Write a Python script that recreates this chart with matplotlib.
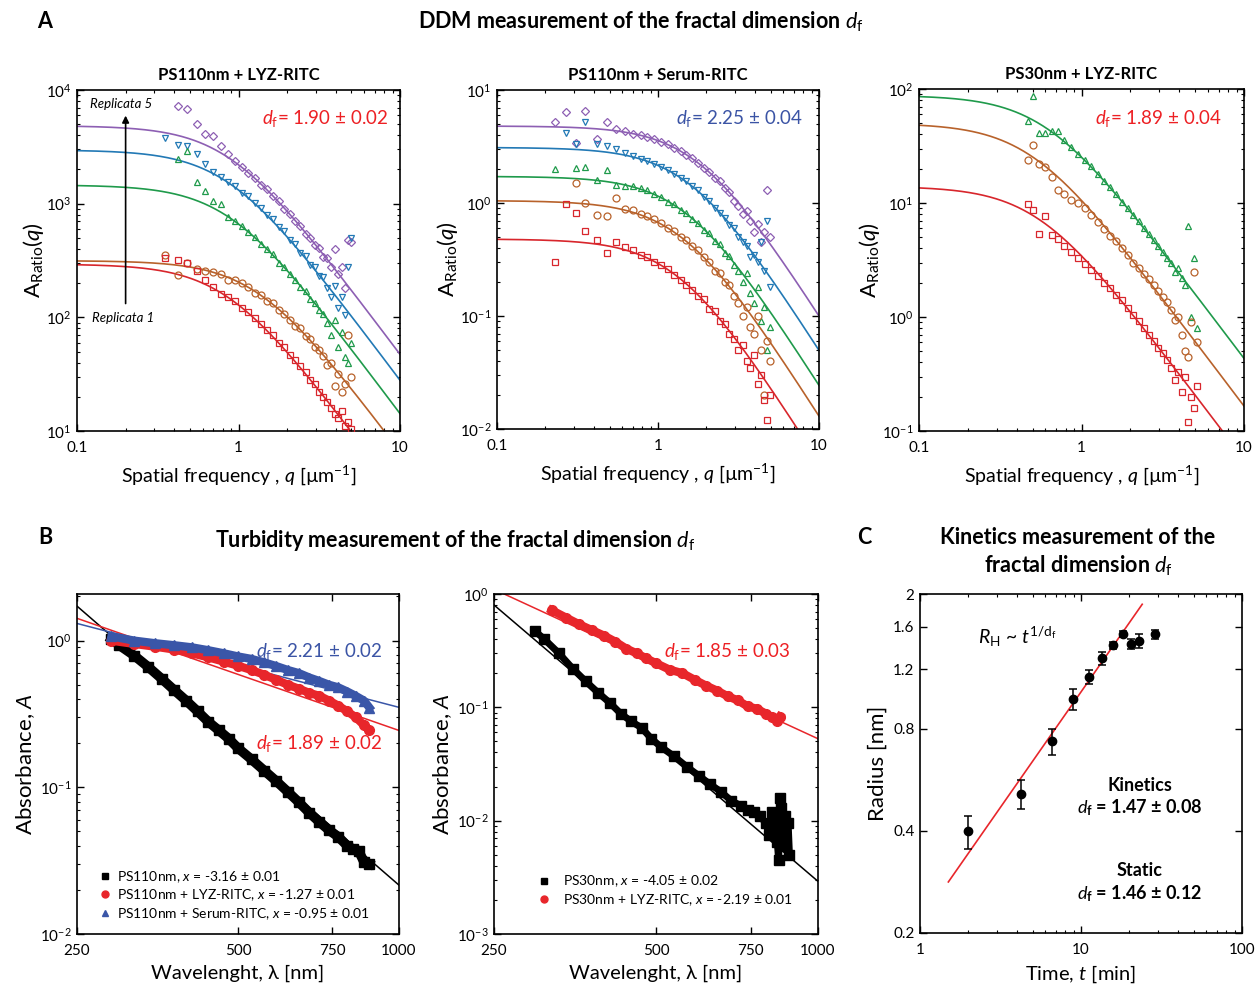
import numpy as np
import matplotlib
matplotlib.use('Agg')
import matplotlib.pyplot as plt
from matplotlib import ticker
from matplotlib.lines import Line2D

plt.rcParams['font.family'] = ['Lato', 'DejaVu Sans']
plt.rcParams['mathtext.fontset'] = 'custom'
plt.rcParams['mathtext.rm'] = 'Lato'
plt.rcParams['mathtext.it'] = 'Lato:italic'
plt.rcParams['mathtext.bf'] = 'Lato:bold'
plt.rcParams['axes.unicode_minus'] = False
plt.rcParams['axes.linewidth'] = 1.2
for a in ('xtick', 'ytick'):
    plt.rcParams[a + '.direction'] = 'in'
    plt.rcParams[a + '.major.size'] = 5
    plt.rcParams[a + '.minor.size'] = 2.5
    plt.rcParams[a + '.major.width'] = 1.0
    plt.rcParams[a + '.minor.width'] = 0.8
    plt.rcParams[a + '.labelsize'] = 11
plt.rcParams['xtick.major.pad'] = 7
plt.rcParams['ytick.major.pad'] = 4
plt.rcParams['xtick.top'] = True
plt.rcParams['ytick.right'] = True

PURPLE = '#8d5fb3'
BLUE = '#2279b5'
GREEN = '#1f9a4b'
ORANGE = '#b8622b'
RED = '#d8262c'
TXT_RED = '#ed2024'
TXT_BLUE = '#3b54a5'
TURB_RED = '#e8262b'
TURB_BLUE = '#3a56a8'
nan = np.nan

# ---- A: DDM, amplitude ratio vs q ----
q_a1 = [0.35, 0.42, 0.48, 0.55, 0.62, 0.70, 0.78, 0.86, 0.95, 1.05, 1.15, 1.26, 1.38,
        1.50, 1.63, 1.77, 1.92, 2.08, 2.25, 2.42, 2.60, 2.78, 2.97, 3.16, 3.35, 3.55,
        3.75, 3.95, 4.15, 4.35, 4.55, 4.75, 4.95]
a1_rep5 = [nan, 7200, 6800, 5000, 4100, 3900, 3200, 2750, 2350, 2100, 1880, 1690, 1470,
           1340, 1160, 1050, 900, 815, 700, 640, 545, 500, 430, 410, 340, 330, 280, 400,
           240, 280, 180, 480, 460]
a1_rep4 = [3800, 3250, 3200, 2750, 2250, 1900, 1700, 1560, 1420, 1250, 1160, 1010, 920,
           800, 730, 620, 570, 480, 440, 370, 345, 290, 275, 230, 225, 180, 150, 190, 120,
           150, 105, 280, 500]
a1_rep3 = [nan, 2450, 2900, 1550, 1300, 1050, 1000, 760, 700, 640, 560, 510, 440, 400,
           360, 300, 280, 240, 215, 185, 170, 145, 135, 115, 108, 90, 70, 95, 55, 75, 45,
           40, 60]
a1_rep2 = [350, 235, 300, 265, 255, 250, 240, 215, 215, 200, 185, 165, 158, 140, 133, 115,
           108, 95, 84, 80, 68, 64, 55, 52, 46, 38, 40, 25, 32, 22, 26, 70, 30]
a1_rep1 = [330, 320, 300, 255, 215, 185, 160, 150, 138, 120, 112, 98, 88, 77, 70, 60, 55,
           47, 42, 37, 33, 28, 26, 22, 20, 18, 16, 14, 13, 15, 11, 12, 10.5]
a1_df = 1.90
a1_plateau = [4850, 2965, 1460, 315, 294]
a1_xi = [1.14, 1.16, 1.14, 0.76, 1.18]

q_a2 = [0.23, 0.27, 0.31] + q_a1
a2_rep5 = [5.2, 6.4, 3.4, 6.5, 3.7, 5.2, 4.5, 4.3, 4.1, 4.0, 3.8, 3.65, 3.45, 3.3, 3.05,
           2.9, 2.65, 2.5, 2.25, 2.05, 1.9, 1.65, 1.55, 1.35, 1.25, 1.05, 0.95, 0.8, 0.85,
           0.7, 0.55, 0.65, 0.45, 0.55, 1.3, 0.5]
a2_rep4 = [nan, 4.2, 3.3, 5.2, 3.3, 3.2, 3.0, 2.75, 2.6, 2.45, 2.35, 2.2, 2.1, 1.95, 1.8,
           1.68, 1.55, 1.4, 1.3, 1.12, 1.05, 0.9, 0.82, 0.74, 0.64, 0.6, 0.5, 0.45, 0.42,
           0.33, 0.35, 0.3, 0.45, 0.25, 0.7, 0.18]
a2_rep3 = [2.0, nan, 2.05, 2.1, 1.6, 1.95, 1.45, 1.4, 1.42, 1.35, 1.3, 1.2, 1.12, 1.02,
           0.98, 0.87, 0.82, 0.72, 0.67, 0.58, 0.54, 0.46, 0.43, 0.36, 0.34, 0.28, 0.25,
           0.2, 0.24, 0.16, 0.13, 0.18, 0.09, 0.12, 0.05, 0.08]
a2_rep2 = [nan, nan, 1.5, 1.0, 0.78, 0.76, 1.1, 0.88, 0.86, 0.8, 0.76, 0.72, 0.66, 0.6,
           0.56, 0.5, 0.47, 0.42, 0.38, 0.33, 0.3, 0.25, 0.24, 0.2, 0.19, 0.15, 0.13, 0.1,
           0.12, 0.08, 0.07, 0.1, 0.05, 0.02, 0.06, 0.04]
a2_rep1 = [0.30, 0.98, 0.82, 0.56, 0.47, 0.36, 0.45, 0.41, 0.38, 0.35, 0.33, 0.3, 0.28,
           0.26, 0.23, 0.21, 0.19, 0.17, 0.15, 0.14, 0.115, 0.11, 0.09, 0.085, 0.07, 0.063,
           0.05, 0.055, 0.04, 0.035, 0.045, 0.025, 0.03, 0.018, 0.012, 0.02]
a2_df = 2.25
a2_plateau = [4.8, 3.1, 1.72, 1.05, 0.48]
a2_xi = [0.55, 0.62, 0.656, 0.697, 0.747]

q_a3 = [0.47, 0.50, 0.55, 0.60, 0.66, 0.72, 0.78, 0.86, 0.95, 1.05, 1.15, 1.26, 1.38,
        1.50, 1.63, 1.77, 1.92, 2.08, 2.25, 2.42, 2.60, 2.78, 2.97, 3.16, 3.35, 3.55,
        3.75, 3.95, 4.15, 4.35, 4.55, 4.75, 4.95, 5.15]
a3_rep3 = [52, 86, 41, 41, 43, 43, 36, 31, 27, 24, 21, 18, 15.5, 13.8, 12, 10.3, 9.0,
           7.9, 6.9, 6.0, 5.3, 4.7, 4.2, 3.7, 3.3, 3.0, 2.5, 2.7, 2.2, 1.9, 6.3, 1.0, 3.3,
           0.8]
a3_rep2 = [24, 32, 22, 20.5, 17, 13, 12, 10.7, 10, 9, 7.8, 6.8, 5.9, 5.1, 4.6, 4.0, 3.5,
           3.0, 2.7, 2.4, 2.15, 1.9, 1.7, 1.5, 1.35, 1.15, 0.95, 1.0, 0.7, 0.5, 0.45, 0.9,
           2.5, 0.6]
a3_rep1 = [9.8, 8.6, 5.4, 7.7, 5.2, 4.8, 4.2, 3.7, 3.3, 2.9, 2.6, 2.3, 2.0, 1.8, 1.55,
           1.4, 1.2, 1.05, 0.92, 0.8, 0.7, 0.62, 0.54, 0.48, 0.42, 0.36, 0.28, 0.33, 0.22,
           0.3, 0.12, 0.2, 0.16, 0.25]
a3_df = 1.89
a3_plateau = [88, 50, 14]
a3_xi = [1.66, 2.05, 1.85]

# ---- B: turbidity ----
b1_wl_black = [290, 300, 320, 340, 360, 380, 400, 420, 440, 460, 480, 500, 530, 560, 590,
               620, 650, 680, 710, 740, 770, 800, 820, 840, 860, 880]
b1_black = [1.02, 0.93, 0.79, 0.66, 0.55, 0.46, 0.39, 0.33, 0.28, 0.245, 0.215, 0.185,
            0.155, 0.13, 0.11, 0.093, 0.079, 0.067, 0.058, 0.051, 0.046, 0.040, 0.038,
            0.037, 0.031, 0.030]
b1_wl = [290, 320, 350, 380, 410, 440, 470, 500, 530, 560, 590, 620, 650, 680, 710, 740,
         770, 800, 830, 860, 880]
b1_red = [1.0, 0.95, 0.91, 0.87, 0.82, 0.77, 0.72, 0.675, 0.63, 0.585, 0.54, 0.50, 0.47,
          0.44, 0.42, 0.39, 0.36, 0.33, 0.30, 0.265, 0.245]
b1_blue = [1.07, 1.0, 0.96, 0.93, 0.90, 0.86, 0.82, 0.78, 0.75, 0.71, 0.67, 0.63, 0.60,
           0.56, 0.53, 0.50, 0.48, 0.45, 0.42, 0.39, 0.35]
b1_exp = [-3.16, -1.27, -0.95]
b1_pref = [1.72, 1.42, 1.31]        # absorbance at 250 nm

b2_wl_black = [298, 310, 330, 350, 370, 390, 410, 430, 450, 470, 490, 510, 540, 570, 600,
               630, 660, 690, 720, 740, 760, 780, 800, 810, 820, 830, 840, 845, 850, 855,
               860, 865, 870, 880, 885]
b2_black = [0.47, 0.40, 0.30, 0.22, 0.17, 0.135, 0.11, 0.088, 0.075, 0.066, 0.053, 0.045,
            0.037, 0.030, 0.025, 0.021, 0.018, 0.015, 0.0135, 0.0125, 0.012, 0.011,
            0.0095, 0.0075, 0.012, 0.009, 0.0065, 0.0045, 0.016, 0.013, 0.0085, 0.006,
            0.011, 0.0095, 0.005]
b2_wl_red = [320, 340, 360, 380, 400, 420, 440, 460, 480, 500, 530, 560, 590, 620, 650,
             680, 710, 740, 770, 800, 820, 840, 850]
b2_red = [0.72, 0.62, 0.54, 0.48, 0.43, 0.38, 0.33, 0.30, 0.27, 0.245, 0.215, 0.20, 0.175,
          0.155, 0.14, 0.125, 0.115, 0.102, 0.097, 0.088, 0.082, 0.075, 0.083]
b2_exp = [-4.05, -2.19]
b2_pref = [0.80, 1.10]

# ---- C: kinetics ----
t_min = [1.98, 4.27, 6.59, 8.94, 11.2, 13.5, 15.8, 18.2, 20.4, 22.9, 28.8]
radius = [0.399, 0.514, 0.736, 0.979, 1.138, 1.292, 1.412, 1.528, 1.422, 1.454, 1.521]
radius_err = [0.045, 0.05, 0.064, 0.07, 0.055, 0.058, 0.033, 0.032, 0.05, 0.07, 0.045]
kin_df = 1.47
kin_pref = 0.2147
kin_trange = [1.5, 24.0]

W, H = 1258, 988
fig = plt.figure(figsize=(W / 100, H / 100), dpi=100)


def px_axes(x0, y0, x1, y1):
    return fig.add_axes([x0 / W, 1 - y1 / H, (x1 - x0) / W, (y1 - y0) / H])


def px_text(x, y, s, **kw):
    fig.text(x / W, 1 - y / H, s, **kw)


def plain_fmt(v, pos):
    return '%g' % v


def ddm_panel(ax, q, reps, plateau, xi, df, colors, markers, ylim, label, lcolor, lx):
    qq = np.logspace(-1, 1, 300)
    for vals, a0, x, c, m in zip(reps, plateau, xi, colors, markers):
        ax.plot(qq, a0 * (1 + (qq * x) ** 2) ** (-df / 2), color=c, lw=1.2, zorder=2)
        ax.plot(q, vals, m, ls='none', mfc='none', mec=c, ms=5 if m != 'D' else 4.3,
                mew=0.9, zorder=3)
    ax.set_xscale('log')
    ax.set_yscale('log')
    ax.set_xlim(0.1, 10)
    ax.set_ylim(*ylim)
    ax.xaxis.set_major_formatter(ticker.FuncFormatter(plain_fmt))
    ax.set_xlabel(r'Spatial frequency , $q$ [µm$^{\mathrm{-1}}$]', fontsize=14, labelpad=6)
    ax.set_ylabel(r'$\mathrm{A}_{\mathrm{Ratio}}(q)$', fontsize=16, labelpad=0)
    ax.text(lx, 0.915, r'$d_\mathrm{f}$= ' + label, transform=ax.transAxes, ha='right',
            va='center', color=lcolor, fontsize=13.5)


ax1 = px_axes(77, 90, 400, 431)
ddm_panel(ax1, q_a1, [a1_rep5, a1_rep4, a1_rep3, a1_rep2, a1_rep1], a1_plateau, a1_xi,
          a1_df, [PURPLE, BLUE, GREEN, ORANGE, RED], ['D', 'v', '^', 'o', 's'],
          (10, 1e4), '1.90 ± 0.02', TXT_RED, 0.963)
ax1.annotate('', xy=(0.2, 6300), xytext=(0.2, 125),
             arrowprops=dict(arrowstyle='-|>', color='black', lw=1.2, mutation_scale=10))
ax1.text(0.12, 7500, 'Replicata 5', style='italic', fontsize=9.5, va='center')
ax1.text(0.124, 99, 'Replicata 1', style='italic', fontsize=9.5, va='center')

ax2 = px_axes(497, 90, 819, 429)
ddm_panel(ax2, q_a2, [a2_rep5, a2_rep4, a2_rep3, a2_rep2, a2_rep1], a2_plateau, a2_xi,
          a2_df, [PURPLE, BLUE, GREEN, ORANGE, RED], ['D', 'v', '^', 'o', 's'],
          (0.01, 10), '2.25 ± 0.04', TXT_BLUE, 0.950)

ax3 = px_axes(919, 89, 1244, 431)
ddm_panel(ax3, q_a3, [a3_rep3, a3_rep2, a3_rep1], a3_plateau, a3_xi, a3_df,
          [GREEN, ORANGE, RED], ['^', 'o', 's'], (0.1, 100), '1.89 ± 0.04', TXT_RED, 0.932)

for ax, title in zip([ax1, ax2, ax3],
                     ['PS110nm + LYZ-RITC', 'PS110nm + Serum-RITC', 'PS30nm + LYZ-RITC']):
    ax.set_title(title, fontsize=12, fontweight='bold', pad=7)


def turb_axes(ax, ylim):
    ax.set_xscale('log')
    ax.set_yscale('log')
    ax.set_xlim(250, 1000)
    ax.set_ylim(*ylim)
    ax.xaxis.set_major_locator(ticker.FixedLocator([250, 500, 750, 1000]))
    ax.xaxis.set_major_formatter(ticker.FuncFormatter(plain_fmt))
    ax.xaxis.set_minor_locator(ticker.NullLocator())
    ax.set_xlabel('Wavelenght, λ [nm]', fontsize=14.5, labelpad=5)
    ax.set_ylabel(r'Absorbance, $A$', fontsize=16, labelpad=2)


wl = np.logspace(np.log10(250), 3, 100)

axb1 = px_axes(77, 594, 399, 934)
for pref, ex, c in zip(b1_pref, b1_exp, ['black', TURB_RED, TURB_BLUE]):
    axb1.plot(wl, pref * (wl / 250) ** ex, color=c, lw=1.1, zorder=2)
axb1.plot(b1_wl_black, b1_black, 's-', color='black', ms=7, lw=7, zorder=3)
axb1.plot(b1_wl, b1_red, 'o-', color=TURB_RED, ms=7, lw=6, zorder=4)
axb1.plot(b1_wl, b1_blue, '^-', color=TURB_BLUE, ms=7, lw=6, zorder=5)
turb_axes(axb1, (0.01, 2.08))
axb1.text(0.947, 0.832, r'$d_\mathrm{f}$= 2.21 ± 0.02', transform=axb1.transAxes,
          ha='right', va='center', color=TXT_BLUE, fontsize=13.5)
axb1.text(0.947, 0.559, r'$d_\mathrm{f}$= 1.89 ± 0.02', transform=axb1.transAxes,
          ha='right', va='center', color=TXT_RED, fontsize=13.5)
hb1 = [Line2D([], [], ls='none', marker='s', color='black', ms=5),
       Line2D([], [], ls='none', marker='o', color=TURB_RED, ms=5),
       Line2D([], [], ls='none', marker='^', color=TURB_BLUE, ms=5)]
axb1.legend(hb1, [r'PS110nm, $x$ = -3.16 ± 0.01', r'PS110nm + LYZ-RITC, $x$ = -1.27 ± 0.01',
                  r'PS110nm + Serum-RITC, $x$ = -0.95 ± 0.01'],
            loc='lower left', bbox_to_anchor=(0.03, 0.0), frameon=False, fontsize=10,
            handlelength=0.8, handletextpad=0.5, labelspacing=0.2)

axb2 = px_axes(494, 594, 818, 934)
for pref, ex, c in zip(b2_pref, b2_exp, ['black', TURB_RED]):
    axb2.plot(wl, pref * (wl / 250) ** ex, color=c, lw=1.1, zorder=2)
axb2.plot(b2_wl_black, b2_black, 's-', color='black', ms=7, lw=5, zorder=3)
axb2.plot(b2_wl_red, b2_red, 'o-', color=TURB_RED, ms=7, lw=6, zorder=4)
turb_axes(axb2, (0.001, 1))
axb2.text(0.914, 0.832, r'$d_\mathrm{f}$= 1.85 ± 0.03', transform=axb2.transAxes,
          ha='right', va='center', color=TXT_RED, fontsize=13.5)
hb2 = [Line2D([], [], ls='none', marker='s', color='black', ms=5),
       Line2D([], [], ls='none', marker='o', color=TURB_RED, ms=5)]
axb2.legend(hb2, [r'PS30nm, $x$ = -4.05 ± 0.02', r'PS30nm + LYZ-RITC, $x$ = -2.19 ± 0.01'],
            loc='lower left', bbox_to_anchor=(0.1, 0.04), frameon=False, fontsize=10,
            handlelength=0.8, handletextpad=0.9, labelspacing=0.2)

axc = px_axes(920, 594, 1242, 933)
tt = np.logspace(np.log10(kin_trange[0]), np.log10(kin_trange[1]), 50)
axc.plot(tt, kin_pref * tt ** (1 / kin_df), color=TURB_RED, lw=1.2, zorder=2)
axc.errorbar(t_min, radius, yerr=radius_err, fmt='o', color='black', ms=6, capsize=3,
             elinewidth=1.1, capthick=1.1, zorder=3)
axc.set_xscale('log')
axc.set_yscale('log')
axc.set_xlim(1, 100)
axc.set_ylim(0.2, 2)
axc.xaxis.set_major_formatter(ticker.FuncFormatter(plain_fmt))
axc.yaxis.set_major_locator(ticker.FixedLocator([0.2, 0.4, 0.8, 1.2, 1.6, 2]))
axc.yaxis.set_major_formatter(ticker.FuncFormatter(plain_fmt))
axc.yaxis.set_minor_locator(ticker.NullLocator())
axc.set_xlabel(r'Time, $t$ [min]', fontsize=14.5, labelpad=5)
axc.set_ylabel('Radius [nm]', fontsize=16, labelpad=4)
axc.text(0.18, 0.873, r'$R_\mathrm{H}$ ~ $t^{1/\mathrm{d_f}}$', transform=axc.transAxes,
         fontsize=14, va='center')
for s, y in [('Kinetics', 0.434), (r'$d_\mathbf{f}$ = 1.47 ± 0.08', 0.369),
             ('Static', 0.183), (r'$d_\mathbf{f}$ = 1.46 ± 0.12', 0.115)]:
    axc.text(0.683, y, s, transform=axc.transAxes, ha='center', va='center',
             fontsize=13, fontweight='bold')

# section headings
head = dict(fontsize=15.5, fontweight='bold', va='center')
px_text(45, 22, 'A', ha='center', **head)
px_text(641, 22, r'DDM measurement of the fractal dimension $d_\mathrm{f}$', ha='center', **head)
px_text(45, 538, 'B', ha='center', **head)
px_text(455, 540, r'Turbidity measurement of the fractal dimension $d_\mathrm{f}$',
        ha='center', **head)
px_text(864, 538, 'C', ha='center', **head)
px_text(1078, 538, 'Kinetics measurement of the', ha='center', **head)
px_text(1078, 566, r'fractal dimension $d_\mathrm{f}$', ha='center', **head)

fig.savefig('out.png', dpi=100)
